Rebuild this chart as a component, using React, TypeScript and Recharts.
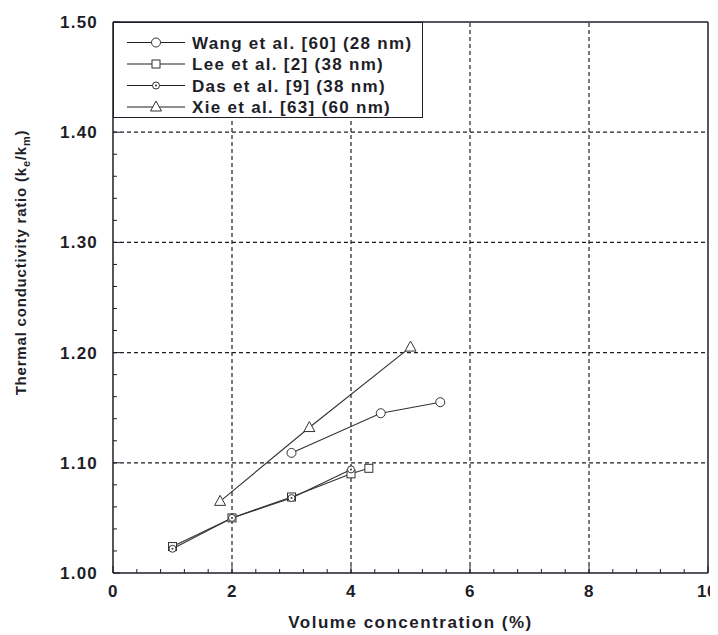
import React from 'react';
import { LineChart, Line, XAxis, YAxis, ReferenceLine, Legend, Label } from 'recharts';

// series (volume %, k_e/k_m)
const wangX = [3, 4.5, 5.5];
const wangY = [1.109, 1.145, 1.155];
const leeX = [1, 2, 3, 4, 4.3];
const leeY = [1.024, 1.05, 1.069, 1.09, 1.095];
const dasX = [1, 2, 3, 4];
const dasY = [1.022, 1.05, 1.068, 1.094];
const xieX = [1.8, 3.3, 5.0];
const xieY = [1.065, 1.132, 1.205];

const seriesNames = [
  'Wang et al. [60] (28 nm)',
  'Lee et al. [2] (38 nm)',
  'Das et al. [9] (38 nm)',
  'Xie et al. [63] (60 nm)',
];

// axis ticks
const xMajor = [0, 2, 4, 6, 8, 10];
const xMinor = [0, 0.4, 0.8, 1.2, 1.6, 2, 2.4, 2.8, 3.2, 3.6, 4, 4.4, 4.8, 5.2, 5.6, 6, 6.4, 6.8, 7.2, 7.6, 8, 8.4, 8.8, 9.2, 9.6, 10];
const yMajor = [1.0, 1.1, 1.2, 1.3, 1.4, 1.5];
const yMinor = [1.0, 1.02, 1.04, 1.06, 1.08, 1.1, 1.12, 1.14, 1.16, 1.18, 1.2, 1.22, 1.24, 1.26, 1.28, 1.3, 1.32, 1.34, 1.36, 1.38, 1.4, 1.42, 1.44, 1.46, 1.48, 1.5];
const xGrid = [2, 4, 6, 8];
const yGrid = [1.1, 1.2, 1.3, 1.4];

const zip = (xs: number[], ys: number[]) => xs.map((x, i) => ({ x, y: ys[i] }));

const INK = '#1e1e28';
const FONT = '"Liberation Sans", Arial, sans-serif';

const isMajorX = (v: number) => xMajor.some((m) => Math.abs(m - v) < 1e-6);
const isMajorY = (v: number) => yMajor.some((m) => Math.abs(m - v) < 1e-6);

// markers
const Marker = ({ kind, cx, cy }: { kind: number; cx: number; cy: number }) => {
  if (kind === 0) return <circle cx={cx} cy={cy} r={4.5} fill="#fff" stroke="#333" strokeWidth={1} />;
  if (kind === 1) return <rect x={cx - 4} y={cy - 4} width={8} height={8} fill="#fff" stroke="#333" strokeWidth={1} />;
  if (kind === 2)
    return (
      <g>
        <circle cx={cx} cy={cy} r={3.5} fill="#fff" stroke="#333" strokeWidth={1} />
        <circle cx={cx} cy={cy} r={1} fill="#333" />
      </g>
    );
  return <path d={`M${cx},${cy - 6} L${cx + 5.5},${cy + 4} L${cx - 5.5},${cy + 4} Z`} fill="#fff" stroke="#333" strokeWidth={1} />;
};

const dotFor = (kind: number) => (p: any) => <Marker key={`${kind}-${p.index}`} kind={kind} cx={p.cx} cy={p.cy} />;

// ticks drawn inward
const BottomTick = ({ x, y, payload }: any) => {
  const major = isMajorX(payload.value);
  const last = payload.value === 10;
  return (
    <g>
      <line x1={x} x2={x} y1={y} y2={y - (major ? 7 : 4)} stroke={INK} />
      {major && (
        <text
          x={last ? x + 9 : x}
          y={y + 24}
          textAnchor={last ? 'end' : 'middle'}
          fontFamily={FONT}
          fontWeight="bold"
          fontSize={17}
          letterSpacing={0.5}
          fill={INK}
        >
          {payload.value}
        </text>
      )}
    </g>
  );
};

const TopTick = ({ x, y, payload }: any) => {
  const major = isMajorX(payload.value);
  return <line x1={x} x2={x} y1={y} y2={y + (major ? 7 : 4)} stroke={INK} />;
};

const LeftTick = ({ x, y, payload }: any) => {
  const major = isMajorY(payload.value);
  return (
    <g>
      <line x1={x} x2={x + (major ? 7 : 4)} y1={y} y2={y} stroke={INK} />
      {major && (
        <text x={x - 15} y={y + 6} textAnchor="end" fontFamily={FONT} fontWeight="bold" fontSize={17} letterSpacing={1.2} fill={INK}>
          {payload.value.toFixed(2)}
        </text>
      )}
    </g>
  );
};

const RightTick = ({ x, y, payload }: any) => {
  const major = isMajorY(payload.value);
  return <line x1={x} x2={x - (major ? 7 : 4)} y1={y} y2={y} stroke={INK} />;
};

const LegendBox = () => (
  <div style={{ width: 310, height: 96, border: `1.5px solid ${INK}`, background: '#fff', boxSizing: 'border-box' }}>
    <svg width={307} height={93} style={{ display: 'block' }}>
      {seriesNames.map((name, i) => {
        const ry = 19.5 + i * 21.5;
        return (
          <g key={name}>
            <line x1={13} x2={71} y1={ry} y2={ry} stroke="#222" strokeWidth={1.2} />
            <Marker kind={i} cx={42} cy={ry} />
            <text x={78} y={ry + 6} fontFamily={FONT} fontWeight="bold" fontSize={17} letterSpacing={1.3} fill={INK}>
              {name}
            </text>
          </g>
        );
      })}
    </svg>
  </div>
);

const series = [zip(wangX, wangY), zip(leeX, leeY), zip(dasX, dasY), zip(xieX, xieY)];

export default function App() {
  return (
    <LineChart width={710} height={627} margin={{ top: 13, right: 9, bottom: 61, left: 0 }}>
      <XAxis
        xAxisId="b"
        dataKey="x"
        type="number"
        domain={[0, 10]}
        ticks={xMinor}
        interval={0}
        height={1}
        tickSize={0}
        tickMargin={0}
        tick={<BottomTick />}
        axisLine={{ stroke: INK, strokeWidth: 1.5 }}
      >
        <Label
          content={({ viewBox }: any) => (
            <text
              x={viewBox.x + viewBox.width / 2}
              y={viewBox.y + 55}
              textAnchor="middle"
              fontFamily={FONT}
              fontWeight="bold"
              fontSize={17}
              letterSpacing={1.5}
              fill={INK}
            >
              Volume concentration (%)
            </text>
          )}
        />
      </XAxis>
      <XAxis
        xAxisId="t"
        orientation="top"
        dataKey="x"
        type="number"
        domain={[0, 10]}
        ticks={xMinor}
        interval={0}
        height={1}
        tickSize={0}
        tickMargin={0}
        tick={<TopTick />}
        axisLine={{ stroke: INK, strokeWidth: 1.5 }}
      />
      <YAxis
        yAxisId="l"
        type="number"
        domain={[1, 1.5]}
        ticks={yMinor}
        interval={0}
        width={105}
        tickSize={0}
        tickMargin={0}
        tick={<LeftTick />}
        axisLine={{ stroke: INK, strokeWidth: 1.5 }}
      >
        <Label
          content={({ viewBox }: any) => {
            const cx = 18;
            const cy = viewBox.y + viewBox.height / 2 - 35;
            return (
              <text
                x={cx}
                y={cy}
                transform={`rotate(-90, ${cx}, ${cy})`}
                textAnchor="middle"
                fontFamily={FONT}
                fontWeight="bold"
                fontSize={15}
                letterSpacing={0.8}
                fill={INK}
              >
                Thermal conductivity ratio (k<tspan dy={4} fontSize={11}>e</tspan>
                <tspan dy={-4}>/k</tspan>
                <tspan dy={4} fontSize={11}>m</tspan>
                <tspan dy={-4}>)</tspan>
              </text>
            );
          }}
        />
      </YAxis>
      <YAxis
        yAxisId="r"
        orientation="right"
        type="number"
        domain={[1, 1.5]}
        ticks={yMinor}
        interval={0}
        width={1}
        tickSize={0}
        tickMargin={0}
        tick={<RightTick />}
        axisLine={{ stroke: INK, strokeWidth: 1.5 }}
      />

      {xGrid.map((v) => (
        <ReferenceLine key={`gx${v}`} xAxisId="b" yAxisId="l" x={v} stroke={INK} strokeDasharray="4 3" strokeWidth={1.2} />
      ))}
      {yGrid.map((v) => (
        <ReferenceLine key={`gy${v}`} xAxisId="b" yAxisId="l" y={v} stroke={INK} strokeDasharray="4 3" strokeWidth={1.2} />
      ))}

      {series.map((d, i) => (
        <Line
          key={seriesNames[i]}
          xAxisId="b"
          yAxisId="l"
          data={d}
          dataKey="y"
          name={seriesNames[i]}
          stroke="#333"
          strokeWidth={1.1}
          dot={dotFor(i)}
          activeDot={false}
          isAnimationActive={false}
        />
      ))}

      <Legend
        layout="vertical"
        align="center"
        verticalAlign="middle"
        wrapperStyle={{ left: 105, top: 14, width: 310, height: 96 }}
        content={() => <LegendBox />}
      />
    </LineChart>
  );
}
